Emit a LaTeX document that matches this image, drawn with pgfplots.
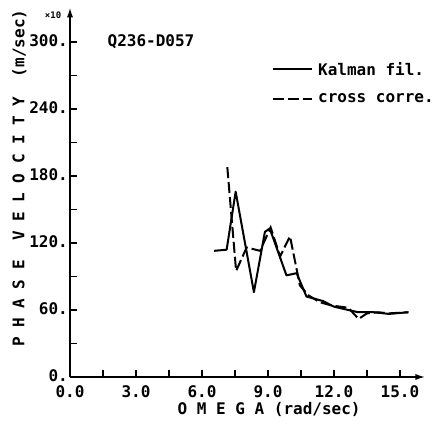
\documentclass[border=0pt]{standalone}
\usepackage{fontspec}
\newfontfamily\plotfont{DejaVu Sans Mono}
\usepackage{pgfplots}
\usepackage{pgfplotstable}
\pgfplotsset{compat=1.18}
\usetikzlibrary{arrows.meta}

\newcommand\pf{\plotfont\bfseries\fontsize{16pt}{18pt}\selectfont}

% Kalman filter estimate
\pgfplotstableread{
x y
6.55 113
7.12 114
7.53 166
8.36 76
8.86 130
9.08 133
9.84 91
10.30 93
10.75 72
11.14 70
11.50 68
12.00 63
12.65 60
13.10 58
13.80 58
14.50 56.5
15.38 58
}\kalman

% cross correlation estimate
\pgfplotstableread{
x y
7.15 188
7.55 95
8.03 116
8.64 113
9.12 134
9.55 108
10.00 126
10.45 82
10.85 73
11.35 67
11.90 64
12.65 62
13.12 52
13.50 57
14.00 58
14.50 57
15.38 58
}\crosscorr

\begin{document}
\begin{tikzpicture}
\begin{axis}[
  scale only axis,
  width=356.4pt, height=370.7pt,
  xmin=0, xmax=16.2,
  ymin=0, ymax=332,
  axis x line=bottom,
  axis y line=left,
  every outer x axis line/.append style={line width=2.2pt, -{Latex[length=11pt,width=6pt]}},
  every outer y axis line/.append style={line width=2.2pt, -{Latex[length=11pt,width=6pt]}},
  axis line style={line width=2.2pt},
  xtick={0,3,6,9,12,15},
  xticklabels={0.0,3.0,6.0,9.0,12.0,15.0},
  ytick={0,60,120,180,240,300},
  yticklabels={0.,60.,120.,180.,240.,300.},
  minor x tick num=1,
  minor y tick num=1,
  tick align=inside,
  major tick length=7pt,
  minor tick length=7pt,
  every tick/.style={line width=1.6pt, black},
  tick label style={font=\pf},
  yticklabel style={inner xsep=2pt, yshift=1pt},
  xticklabel style={inner ysep=1pt, yshift=-7pt},
  clip=false,
  legend style={draw=none, fill=none, font=\pf,
    at={(axis cs:9.18,284)}, anchor=north west,
    inner sep=0pt, row sep=13pt,
    nodes={inner xsep=5pt}},
  legend cell align=left,
  legend image code/.code={\draw[#1] (0pt,0pt) -- (39pt,0pt);},
]
\addplot[black, line width=2pt, line join=round] table {\kalman};
\addlegendentry{Kalman fil.}
\addplot[black, line width=2pt, dash pattern=on 11pt off 4pt] table {\crosscorr};
\addlegendentry{cross corre.}

\node[anchor=west, font=\pf] at (axis cs:1.55,300) {Q236-D057};
\node[anchor=west, font=\plotfont\bfseries\fontsize{9pt}{10pt}\selectfont]
  at (axis cs:-1.3,324) {×10};
\node[rotate=90, font=\pf] at (axis cs:-2.3,178)
  {P~H~A~S~E~~V~E~L~O~C~I~T~Y~~(m/sec)};
\node[font=\pf, inner sep=0pt] at (axis cs:9.05,-29.5) {O~M~E~G~A~(rad/sec)};
\end{axis}
\pgfresetboundingbox
\path[use as bounding box] (-70pt,-49pt) rectangle (375pt,377pt);
\end{tikzpicture}
\end{document}
